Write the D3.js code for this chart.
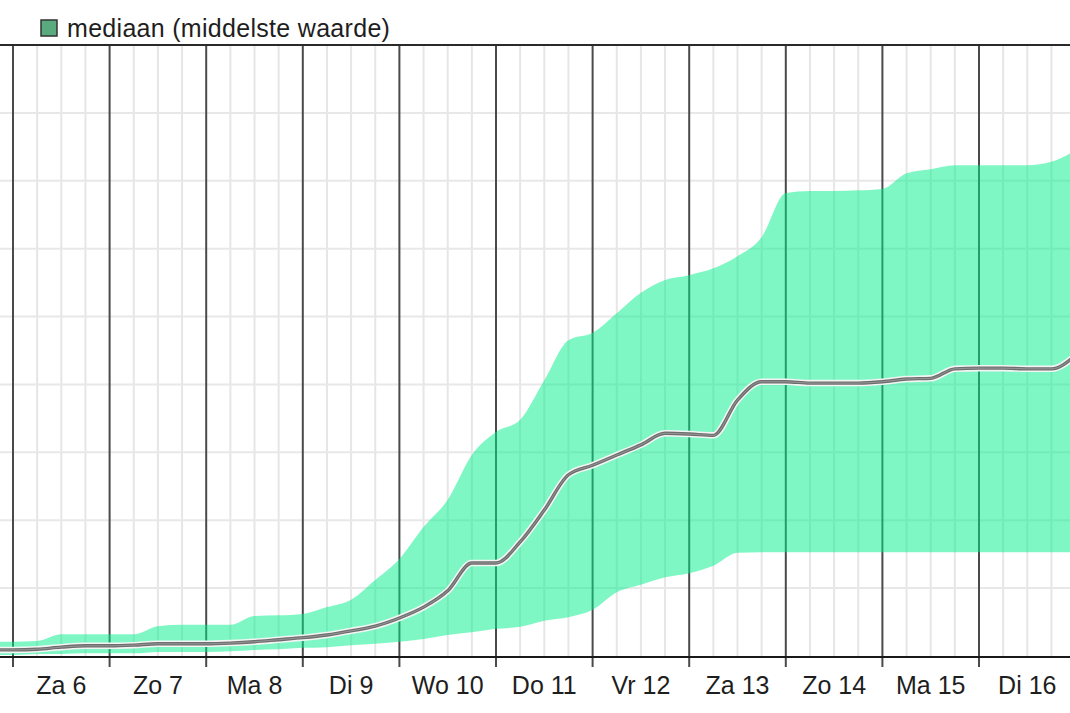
<!DOCTYPE html>
<html>
<head>
<meta charset="utf-8">
<script src="https://cdn.jsdelivr.net/npm/d3@7"></script>
<style>
  body { margin: 0; background: #fff; }
  svg { display: block; font-family: "Liberation Sans", Arial, sans-serif; }
</style>
</head>
<body>
<svg width="1070" height="713"></svg>
<script>
// hours since Za 6 00:00
const hours = [-6, 0, 6, 12, 18, 24, 30, 36, 42, 48, 54, 60, 66, 72, 78, 84, 90, 96, 102, 108,
  114, 120, 126, 132, 138, 144, 150, 156, 162, 168, 174, 180, 186, 192, 198, 204, 210, 216,
  222, 228, 234, 240, 246, 252, 258, 264];

const upper = [2.1, 2.1, 2.2, 3.2, 3.2, 3.2, 3.2, 4.4, 4.6, 4.6, 4.6, 5.9, 6.0, 6.2, 7.2, 8.3,
  11.2, 14.3, 19.0, 23.0, 29.6, 33.0, 34.8, 40.6, 46.5, 47.6, 50.5, 53.5, 55.4, 56.1, 57.1,
  58.9, 61.7, 68.2, 68.5, 68.5, 68.6, 68.8, 71.1, 71.7, 72.3, 72.3, 72.3, 72.3, 72.8, 74.5];

const median = [0.9, 0.9, 1.0, 1.3, 1.5, 1.5, 1.6, 1.8, 1.8, 1.8, 1.9, 2.1, 2.4, 2.7, 3.1, 3.7,
  4.4, 5.6, 7.2, 9.6, 13.7, 13.7, 16.8, 21.5, 26.7, 28.1, 29.6, 31.1, 32.8, 32.7, 32.5,
  37.7, 40.4, 40.4, 40.2, 40.2, 40.2, 40.4, 40.8, 40.9, 42.3, 42.4, 42.4, 42.3, 42.3, 44.3];

const lower = [0.15, 0.15, 0.3, 0.3, 0.4, 0.4, 0.4, 0.6, 0.6, 0.6, 0.7, 0.9, 1.0, 1.2, 1.3, 1.6,
  1.8, 2.1, 2.5, 3.1, 3.5, 4.0, 4.3, 5.2, 5.7, 6.8, 9.4, 10.5, 11.6, 12.2, 13.3,
  15.2, 15.3, 15.3, 15.3, 15.3, 15.3, 15.3, 15.3, 15.3, 15.3, 15.3, 15.3, 15.3, 15.3, 15.3];

const dayLabels = ["Za 6", "Zo 7", "Ma 8", "Di 9", "Wo 10", "Do 11", "Vr 12", "Za 13", "Zo 14", "Ma 15", "Di 16"];
const dayStarts = [0, 24, 48, 72, 96, 120, 144, 168, 192, 216, 240, 264];
const quarterTicks = [-6, 6, 12, 18, 30, 36, 42, 54, 60, 66, 78, 84, 90, 102, 108, 114, 126, 132, 138,
  150, 156, 162, 174, 180, 186, 198, 204, 210, 222, 228, 234, 246, 252, 258];
const yTicks = [10, 20, 30, 40, 50, 60, 70, 80];
const legendLabel = "mediaan (middelste waarde)";

const data = hours.map((h, i) => ({ h, lo: lower[i], mid: median[i], hi: upper[i] }));

const svg = d3.select("svg");
const W = 1070, plotTop = 45, plotBottom = 656;

const x = d3.scaleLinear().domain([0, 240]).range([13, 979]);
const y = d3.scaleLinear().domain([0, 90]).range([plotBottom, plotTop]);

svg.append("defs").append("clipPath").attr("id", "plot")
  .append("rect").attr("x", 0).attr("y", plotTop).attr("width", W).attr("height", plotBottom - plotTop);

const g = svg.append("g");

// light grid
g.selectAll(".vq").data(quarterTicks).enter().append("line")
  .attr("x1", d => x(d)).attr("x2", d => x(d))
  .attr("y1", plotTop).attr("y2", plotBottom)
  .attr("stroke", "#e6e6e6").attr("stroke-width", 2);

g.selectAll(".hg").data(yTicks).enter().append("line")
  .attr("x1", 0).attr("x2", W)
  .attr("y1", d => y(d)).attr("y2", d => y(d))
  .attr("stroke", "#e8e8e8").attr("stroke-width", 2);

// day lines (also ticks below the axis)
g.selectAll(".day").data(dayStarts).enter().append("line")
  .attr("x1", d => x(d)).attr("x2", d => x(d))
  .attr("y1", plotTop).attr("y2", plotBottom + 11)
  .attr("stroke", "#4a4a4a").attr("stroke-width", 2);

// band
const area = d3.area()
  .x(d => x(d.h)).y0(d => y(d.lo)).y1(d => y(d.hi))
  .curve(d3.curveMonotoneX);

svg.append("path").datum(data)
  .attr("clip-path", "url(#plot)")
  .attr("d", area)
  .attr("fill", "rgb(0,240,140)")
  .attr("fill-opacity", 0.5);

// median line
const line = d3.line().x(d => x(d.h)).y(d => y(d.mid)).curve(d3.curveMonotoneX);
const lg = svg.append("g").attr("clip-path", "url(#plot)");
lg.append("path").datum(data).attr("d", line)
  .attr("fill", "none").attr("stroke", "#f4f4f4").attr("stroke-width", 6.5);
lg.append("path").datum(data).attr("d", line)
  .attr("fill", "none").attr("stroke", "#6e6e6e").attr("stroke-width", 3.4);
lg.append("path").datum(data).attr("d", line)
  .attr("fill", "none").attr("stroke", "#959595").attr("stroke-width", 1);

// frame lines
svg.append("line").attr("x1", 0).attr("x2", W).attr("y1", plotTop).attr("y2", plotTop)
  .attr("stroke", "#2a2a2a").attr("stroke-width", 2);
svg.append("line").attr("x1", 0).attr("x2", W).attr("y1", plotBottom + 1).attr("y2", plotBottom + 1)
  .attr("stroke", "#1a1a1a").attr("stroke-width", 2);

// day labels at noon
svg.selectAll(".lbl").data(dayLabels).enter().append("text")
  .attr("x", (d, i) => x(dayStarts[i] + 12))
  .attr("y", 694)
  .attr("text-anchor", "middle")
  .attr("font-size", 25)
  .attr("fill", "#1e1e1e")
  .text(d => d);

// legend
svg.append("rect").attr("x", 41).attr("y", 20).attr("width", 16).attr("height", 16)
  .attr("fill", "#5aaa80").attr("stroke", "#333").attr("stroke-width", 1.5);
svg.append("text").attr("x", 67).attr("y", 37)
  .attr("font-size", 25).attr("letter-spacing", 0.3).attr("fill", "#1e1e1e")
  .text(legendLabel);
</script>
</body>
</html>
